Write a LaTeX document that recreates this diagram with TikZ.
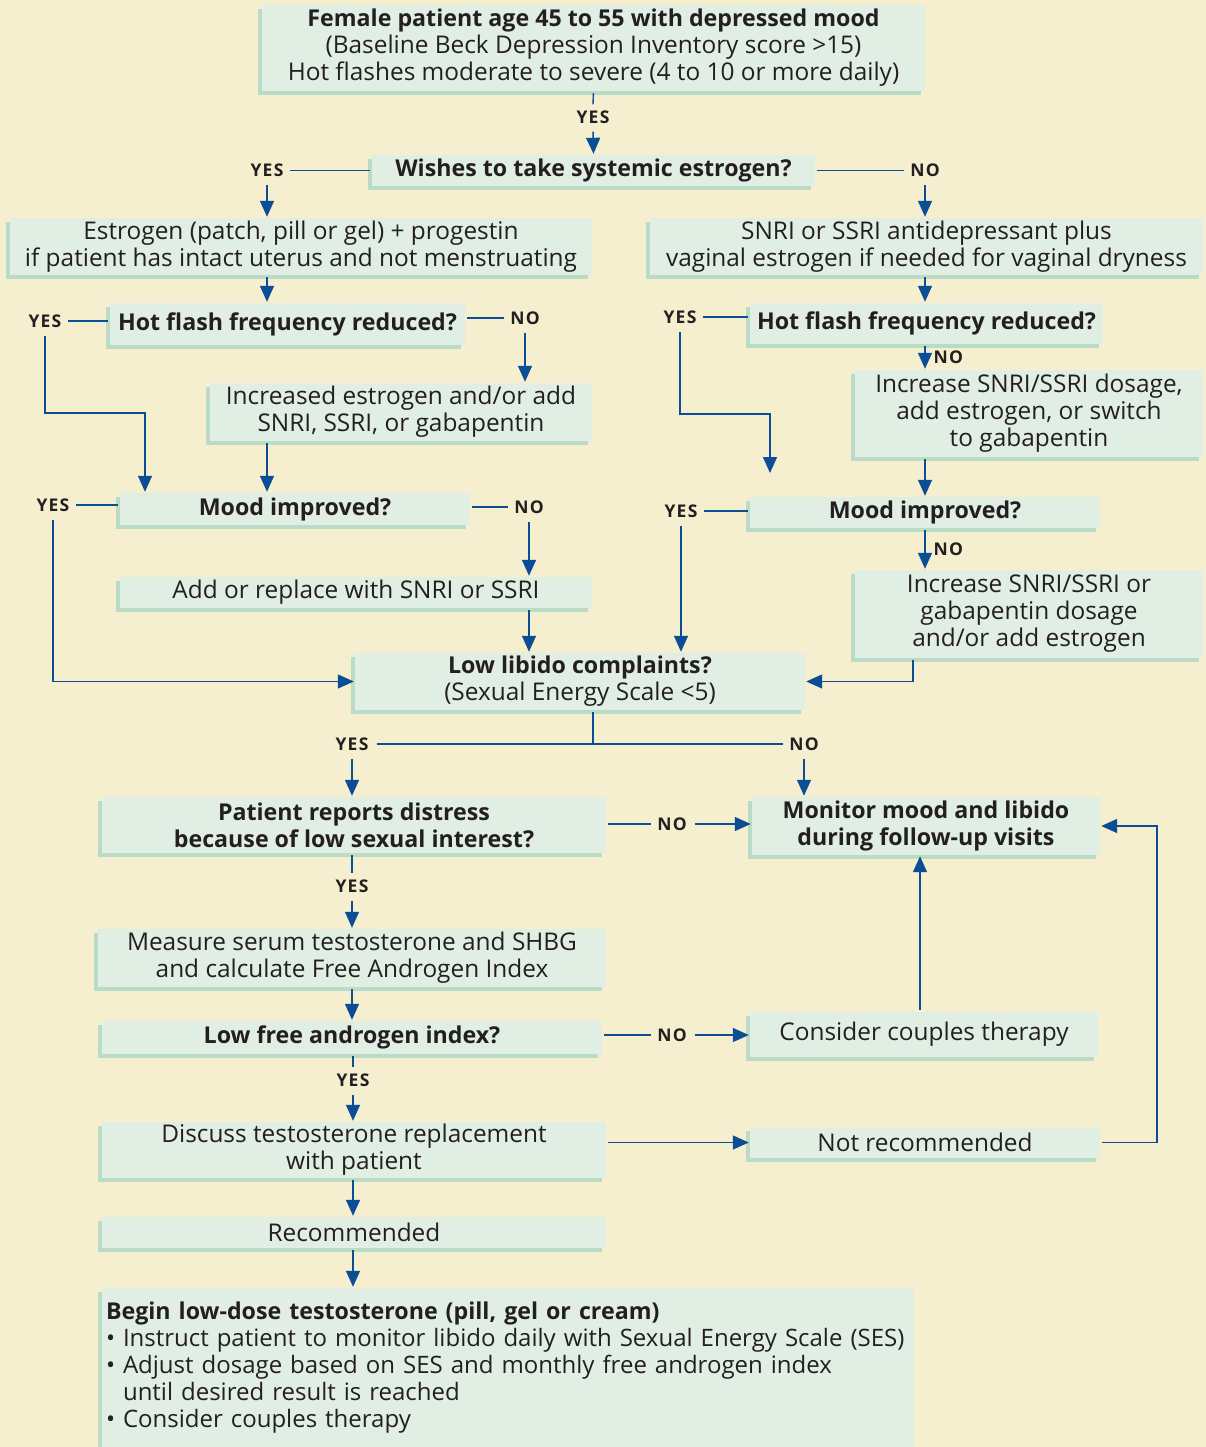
\documentclass[tikz,border=0pt]{standalone}
\usepackage{fontspec}
\setmainfont{Open Sans}
\usepackage{xcolor}
\usepackage{tikz}
\usetikzlibrary{arrows.meta, shadows, positioning}
\definecolor{fcBg}{RGB}{245,239,208}
\definecolor{fcBox}{RGB}{225,238,228}
\definecolor{fcShade}{RGB}{186,220,198}
\definecolor{fcLine}{RGB}{11,78,150}
\definecolor{fcText}{RGB}{35,31,32}
\newcommand{\fcHead}[1]{{\fontsize{23.2}{27}\selectfont\bfseries #1}}

\begin{document}
\begin{tikzpicture}[x=1pt, y=-1pt,
    box/.style={fill=fcBox, drop shadow={shadow xshift=-4pt, shadow yshift=-4pt, fill=fcShade, opacity=1},
                inner sep=0pt, align=center, text=fcText, font=\fontsize{24.4}{27}\selectfont},
    qbox/.style={box, font=\fontsize{23.2}{27}\selectfont\bfseries},
    yn/.style={font=\fontsize{17.5}{17.5}\selectfont\bfseries\addfontfeature{LetterSpace=7}, text=fcText, inner sep=6pt},
    link/.style={draw=fcLine, line width=1.4pt, shorten <=2pt},
    arr/.style={link, -{Triangle[width=14pt,length=16pt]}, shorten >=1pt}
  ]
  \fill[fcBg] (0,0) rectangle (1206,1447);
  \useasboundingbox (0,0) rectangle (1206,1447);

  % boxes
  \node[box, minimum width=663pt, minimum height=86pt] (top) at (593.5,48)
    {\fcHead{Female patient age 45 to 55 with depressed mood}\\(Baseline Beck Depression Inventory score >15)\\Hot flashes moderate to severe (4 to 10 or more daily)};
  \node[qbox, minimum width=443pt, minimum height=31pt] (wish) at (593.5,170.5) {Wishes to take systemic estrogen?};
  \node[box, minimum width=582pt, minimum height=57pt] (est) at (301,246.5)
    {Estrogen (patch, pill or gel) + progestin\\if patient has intact uterus and not menstruating};
  \node[box, minimum width=553pt, minimum height=57pt] (snri) at (926.5,246.5)
    {SNRI or SSRI antidepressant plus\\vaginal estrogen if needed for vaginal dryness};
  \node[qbox, minimum width=355pt, minimum height=42pt] (hfL) at (287.5,324) {Hot flash frequency reduced?};
  \node[qbox, minimum width=353pt, minimum height=41pt] (hfR) at (926.5,323.5) {Hot flash frequency reduced?};
  \node[box, minimum width=382pt, minimum height=58pt] (incL) at (401,412)
    {Increased estrogen and/or add\\SNRI, SSRI, or gabapentin};
  \node[box, minimum width=348pt, minimum height=87pt] (incR) at (1029,413.5)
    {Increase SNRI/SSRI dosage,\\add estrogen, or switch\\to gabapentin};
  \node[qbox, minimum width=350pt, minimum height=32pt] (moodL) at (295,509) {Mood improved?};
  \node[qbox, minimum width=350pt, minimum height=31pt] (moodR) at (925,512.5) {Mood improved?};
  \node[box, minimum width=472pt, minimum height=31pt] (addL) at (356,592.5) {Add or replace with SNRI or SSRI};
  \node[box, minimum width=348pt, minimum height=88pt] (incR2) at (1029,614)
    {Increase SNRI/SSRI or\\gabapentin dosage\\and/or add estrogen};
  \node[box, minimum width=450pt, minimum height=57pt] (libido) at (580,681.5)
    {\fcHead{Low libido complaints?}\\(Sexual Energy Scale <5)};
  \node[qbox, minimum width=504pt, minimum height=56pt] (distress) at (354,825)
    {Patient reports distress\\because of low sexual interest?};
  \node[qbox, minimum width=348pt, minimum height=58pt] (monitor) at (926,826)
    {Monitor mood and libido\\during follow-up visits};
  \node[box, minimum width=508pt, minimum height=58pt] (measure) at (352,958)
    {Measure serum testosterone and SHBG\\and calculate Free Androgen Index};
  \node[qbox, minimum width=500pt, minimum height=33pt] (fai) at (352,1037.5) {Low free androgen index?};
  \node[box, minimum width=348pt, minimum height=45pt] (couples) at (924,1034.5) {Consider couples therapy};
  \node[box, minimum width=504pt, minimum height=56pt] (discuss) at (354,1150)
    {Discuss testosterone replacement\\with patient};
  \node[box, minimum width=350pt, minimum height=31pt] (notrec) at (925,1142.5) {Not recommended};
  \node[box, minimum width=504pt, minimum height=31pt] (rec) at (354,1232.5) {Recommended};
  \node[box, align=left, font=\fontsize{24}{26.8}\selectfont, text width=804pt, inner xsep=4pt,
        minimum height=159pt] (begin) at (508,1367.5)
    {\fcHead{Begin low-dose testosterone (pill, gel or cream)}\\
     \textbullet\ Instruct patient to monitor libido daily with Sexual Energy Scale (SES)\\
     \textbullet\ Adjust dosage based on SES and monthly free androgen index\\
     \phantom{\textbullet\ }until desired result is reached\\
     \textbullet\ Consider couples therapy};

  % yes/no labels
  \node[yn] (yTop) at (593,117) {YES};
  \node[yn] (yEst) at (267,170.5) {YES};
  \node[yn] (nEst) at (925,170.5) {NO};
  \node[yn] (yHfL) at (45,321) {YES};
  \node[yn] (nHfL) at (525,318) {NO};
  \node[yn] (yHfR) at (680,317) {YES};
  \node[yn] (yMoodL) at (53,505) {YES};
  \node[yn] (nMoodL) at (529,507) {NO};
  \node[yn] (yMoodR) at (681,511) {YES};
  \node[yn] (yLib) at (352,744) {YES};
  \node[yn] (nLib) at (804,744) {NO};
  \node[yn] (nDis) at (672,824) {NO};
  \node[yn] (yDis) at (352,886) {YES};
  \node[yn] (nFai) at (672,1035) {NO};
  \node[yn] (yFai) at (353,1080) {YES};

  \coordinate (kHfL) at (145,413);
  \coordinate (kHfR) at (770,414);
  \coordinate (eHfR) at (770,474);
  \coordinate (cR2) at (913,0);
  \coordinate (jLib) at (593,744);
  \coordinate (cUp) at (920,0);
  \coordinate (cLoop) at (1157,0);

  % top part
  \draw[link] (top.south) -- (yTop.north);
  \draw[arr] (yTop.south) -- (wish.north);
  \draw[link] (wish.west) -- (yEst.east);
  \draw[arr] (yEst.south) -- (est.north -| yEst);
  \draw[link] (wish.east) -- (nEst.west);
  \draw[arr] (nEst.south) -- (snri.north -| nEst);
  \draw[arr] (est.south -| yEst) -- (hfL.north -| yEst);
  \draw[arr] (snri.south -| nEst) -- (hfR.north -| nEst);

  % hot flash, left
  \draw[link] (hfL.west |- yHfL) -- (yHfL.east);
  \draw[arr] (yHfL.south) |- (kHfL) -- (moodL.north -| kHfL);
  \draw[link] (hfL.east |- nHfL) -- (nHfL.west);
  \draw[arr] (nHfL.south) -- (incL.north -| nHfL);
  \draw[arr] (incL.south -| yEst) -- (moodL.north -| yEst);

  % hot flash, right
  \draw[link] (hfR.west |- yHfR) -- (yHfR.east);
  \draw[arr] (yHfR.south) |- (kHfR) -- (eHfR);
  \draw[arr] (hfR.south -| nEst) -- (incR.north -| nEst) node[yn, midway, right=2pt] (nHfR) {NO};
  \draw[arr] (incR.south -| nEst) -- (moodR.north -| nEst);

  % mood, left
  \draw[link] (moodL.west |- yMoodL) -- (yMoodL.east);
  \draw[arr] (yMoodL.south) |- (libido.west);
  \draw[link] (moodL.east |- nMoodL) -- (nMoodL.west);
  \draw[arr] (nMoodL.south) -- (addL.north -| nMoodL);
  \draw[arr] (addL.south -| nMoodL) -- (libido.north -| nMoodL);

  % mood, right
  \draw[link] (moodR.west |- yMoodR) -- (yMoodR.east);
  \draw[arr] (yMoodR.south) -- (libido.north -| yMoodR);
  \draw[arr] (moodR.south -| nEst) -- (incR2.north -| nEst) node[yn, midway, right=2pt] (nMoodR) {NO};
  \draw[arr] (incR2.south -| cR2) |- (libido.east);

  % libido
  \draw[link] (libido.south -| jLib) -- (jLib);
  \draw[link] (yLib.east) -- (nLib.west);
  \draw[arr] (yLib.south) -- (distress.north -| yLib);
  \draw[arr] (nLib.south) -- (monitor.north -| nLib);

  % distress and androgen index
  \draw[link] (distress.east |- nDis) -- (nDis.west);
  \draw[arr] (nDis.east) -- (monitor.west |- nDis);
  \draw[link] (distress.south -| yDis) -- (yDis.north);
  \draw[arr] (yDis.south) -- (measure.north -| yDis);
  \draw[arr] (measure.south -| yDis) -- (fai.north -| yDis);
  \draw[link] (fai.east |- nFai) -- (nFai.west);
  \draw[arr] (nFai.east) -- (couples.west |- nFai);
  \draw[link] (fai.south -| yFai) -- (yFai.north);
  \draw[arr] (yFai.south) -- (discuss.north -| yFai);
  \draw[arr] (couples.north -| cUp) -- (monitor.south -| cUp);

  % testosterone
  \draw[arr] (discuss.east |- notrec) -- (notrec.west);
  \draw[arr] (notrec.east) -- (notrec.east -| cLoop) |- (monitor.east);
  \draw[arr] (discuss.south -| yFai) -- (rec.north -| yFai);
  \draw[arr] (rec.south -| yFai) -- (begin.north -| yFai);
\end{tikzpicture}
\end{document}
